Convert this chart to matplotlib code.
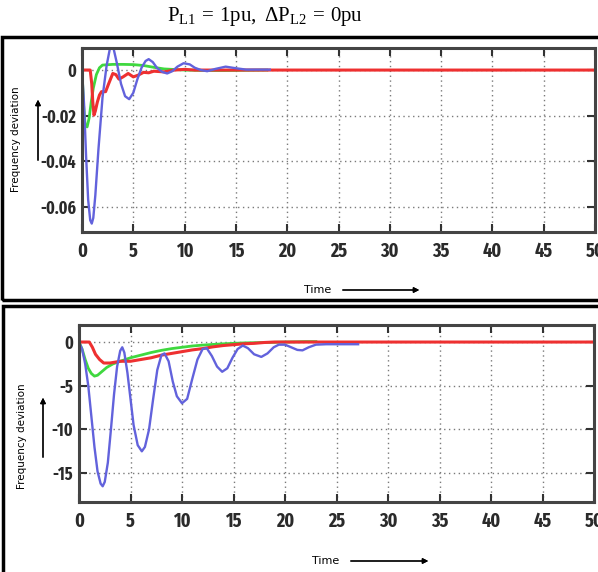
import matplotlib
matplotlib.use("Agg")
import matplotlib.pyplot as plt
from matplotlib.patches import Rectangle
from matplotlib import font_manager

# Load-frequency response, area 1 step load (top) and area 2 deviation (bottom)
x_ticks = [0, 5, 10, 15, 20, 25, 30, 35, 40, 45, 50]

top_yticks = [0, -0.02, -0.04, -0.06]
top_ylabels = ["0", "-0.02", "-0.04", "-0.06"]

top_blue_t = [0, 0.2, 0.4, 0.6, 0.8, 0.95, 1.1, 1.3, 1.6, 2.0, 2.4, 2.7, 2.9, 3.1,
              3.4, 3.8, 4.2, 4.6, 5.0, 5.4, 5.8, 6.2, 6.5, 6.9, 7.3, 7.8, 8.3, 8.8,
              9.3, 9.9, 10.5, 11.0, 11.6, 12.2, 13.0, 14.0, 15.0, 16.0, 17.0, 18.3]
top_blue_y = [0, -0.015, -0.038, -0.057, -0.066, -0.0675, -0.065, -0.055, -0.035,
              -0.012, 0.002, 0.009, 0.0105, 0.009, 0.003, -0.006, -0.0115, -0.0128,
              -0.010, -0.004, 0.001, 0.004, 0.0048, 0.0035, 0.001, -0.0008, -0.0015,
              -0.0005, 0.0015, 0.003, 0.0025, 0.001, 0.0, -0.0005, 0.0005, 0.0015,
              0.0008, 0.0002, 0.0002, 0.0002]

top_green_t = [0, 0.15, 0.3, 0.5, 0.7, 0.9, 1.1, 1.4, 1.7, 2.0, 3, 4, 5, 6, 7, 8,
               10, 12, 14, 16, 18]
top_green_y = [0, -0.015, -0.024, -0.025, -0.021, -0.014, -0.008, -0.002, 0.001,
               0.0022, 0.0025, 0.0025, 0.0024, 0.002, 0.0012, 0.0005, 0.0, -0.0002,
               -0.0002, -0.0001, 0]

top_red_t = [0, 0.8, 0.95, 1.05, 1.17, 1.3, 1.5, 1.7, 1.9, 2.3, 2.6, 3.0, 3.3, 3.6,
             4.0, 4.5, 5.0, 5.5, 6.0, 6.5, 7, 8, 9, 10, 11, 12, 50]
top_red_y = [0, 0, -0.006, -0.014, -0.0198, -0.018, -0.014, -0.011, -0.0095,
             -0.0095, -0.006, -0.0015, -0.002, -0.004, -0.003, -0.0015, -0.003,
             -0.0022, -0.001, -0.0012, -0.0005, -0.0008, 0.0, 0.0003, 0, 0, 0]

bot_yticks = [0, -5, -10, -15]
bot_ylabels = ["0", "-5", "-10", "-15"]

bot_blue_t = [0, 0.3, 0.6, 0.9, 1.2, 1.5, 1.8, 2.1, 2.3, 2.5, 2.8, 3.1, 3.4, 3.7,
              4.0, 4.2, 4.4, 4.7, 5.0, 5.3, 5.7, 6.1, 6.4, 6.8, 7.2, 7.6, 8.0, 8.3,
              8.7, 9.1, 9.5, 10.0, 10.5, 11.0, 11.5, 12.0, 12.4, 12.9, 13.4, 13.9,
              14.4, 14.9, 15.4, 15.9, 16.4, 17.0, 17.7, 18.3, 18.9, 19.4, 20.0, 20.6,
              21.2, 21.7, 22.3, 23.0, 24.0, 27.1]
bot_blue_y = [0, -0.8, -2.5, -5.0, -8.5, -12.0, -14.8, -16.2, -16.5, -16.0, -13.8,
              -10.0, -6.0, -2.8, -1.0, -0.6, -1.2, -3.5, -6.5, -9.5, -11.8, -12.5,
              -12.0, -10.0, -6.5, -3.2, -1.5, -1.3, -2.2, -4.5, -6.2, -7.0, -6.5,
              -4.2, -2.0, -0.8, -0.7, -1.6, -2.8, -3.4, -3.0, -1.8, -0.8, -0.4,
              -0.7, -1.4, -1.7, -1.3, -0.6, -0.3, -0.3, -0.6, -0.9, -0.95, -0.6,
              -0.3, -0.25, -0.25]

bot_green_t = [0, 0.3, 0.6, 0.9, 1.2, 1.5, 1.8, 2.2, 2.7, 3.3, 4.0, 5.0, 6.0, 7.0,
               8.0, 9.0, 10.0, 11, 12, 14, 16, 18, 20, 22, 23]
bot_green_y = [0, -0.8, -2.0, -3.0, -3.6, -3.9, -3.8, -3.4, -2.9, -2.5, -2.2, -1.8,
               -1.5, -1.2, -0.95, -0.75, -0.6, -0.45, -0.35, -0.2, -0.1, -0.05, 0,
               0.05, 0.05]

bot_red_t = [0, 1.0, 1.3, 1.6, 2.0, 2.4, 3.0, 3.5, 4.0, 5.0, 6.0, 7.0, 8.0, 9.0, 10,
             11, 12, 13, 14, 15, 16, 17, 18, 19, 50]
bot_red_y = [0, 0, -0.6, -1.4, -2.0, -2.4, -2.4, -2.3, -2.2, -2.2, -2.0, -1.8, -1.5,
             -1.3, -1.1, -0.9, -0.75, -0.55, -0.4, -0.3, -0.2, -0.15, -0.05, 0, 0]

BLUE = "#6262dc"
GREEN = "#3fd83f"
RED = "#ee3030"

# narrow bold face for the tick numbers
names = {f.name for f in font_manager.fontManager.ttflist}
tick_family = "DejaVu Sans"
for cand in ["Fira Sans Extra Condensed", "Saira ExtraCondensed", "Roboto Condensed"]:
    if cand in names:
        tick_family = cand
        break

fig = plt.figure(figsize=(5.98, 5.72), dpi=100)
W, H = 598, 572


def fx(px):
    return px / W


def fy(py):
    return 1 - py / H


def panel(rect, ylim, yticks, ylabels, lines):
    ax = fig.add_axes(rect)
    for t, y, c, lw in lines:
        ax.plot(t, y, color=c, lw=lw, solid_joinstyle="round")
    ax.set_xlim(0, 50)
    ax.set_ylim(*ylim)
    ax.set_xticks(x_ticks)
    ax.set_xticklabels([str(v) for v in x_ticks])
    ax.set_yticks(yticks)
    ax.set_yticklabels(ylabels)
    ax.grid(True, ls=(0, (1, 2.5)), color="#7a7a7a", lw=1.0)
    ax.tick_params(direction="in", top=True, right=True, length=6, width=1.5,
                   color="#333333")
    ax.tick_params(axis="x", pad=7)
    ax.tick_params(axis="y", pad=4)
    for lab in ax.get_xticklabels():
        lab.set_fontsize(14)
    for lab in ax.get_yticklabels():
        lab.set_fontsize(12.5)
    for lab in ax.get_xticklabels() + ax.get_yticklabels():
        lab.set_family(tick_family)
        lab.set_fontweight("bold")
        lab.set_color("#2a2a2a")
    for s in ax.spines.values():
        s.set_linewidth(2.2)
        s.set_color("#444444")
    return ax


panel([fx(82), fy(232), fx(513), (232 - 48) / H], (-0.0712, 0.0097),
      top_yticks, top_ylabels,
      [(top_green_t, top_green_y, GREEN, 2.0),
       (top_red_t, top_red_y, RED, 2.2),
       (top_blue_t, top_blue_y, BLUE, 1.7)])

panel([fx(79), fy(502), fx(515), (502 - 325) / H], (-18.3, 1.95),
      bot_yticks, bot_ylabels,
      [(bot_green_t, bot_green_y, GREEN, 2.0),
       (bot_red_t, bot_red_y, RED, 2.2),
       (bot_blue_t, bot_blue_y, BLUE, 1.7)])

# outer frames around each panel
for x0, y0, x1, y1 in [(2, 37, 600, 300), (3, 306, 600, 578)]:
    fig.add_artist(Rectangle((fx(x0), fy(y1)), fx(x1 - x0), (y1 - y0) / H,
                             transform=fig.transFigure, fill=False,
                             lw=2.5, ec="black", clip_on=False))

plt.rcParams["mathtext.fontset"] = "custom"
plt.rcParams["mathtext.rm"] = "Liberation Serif"
plt.rcParams["mathtext.it"] = "Liberation Serif"
fig.text(fx(265), fy(16), r"$\mathrm{P_{L1}\,=\,1pu,\ \Delta P_{L2}\,=\,0pu}$",
         ha="center", va="center", fontsize=15, family="Liberation Serif")

# axis captions with arrows
for (lx, ly, ax_x, ay0, ay1) in [(16, 139, 38, 163, 97), (22, 436, 43, 460, 395)]:
    fig.text(fx(lx), fy(ly), "Frequency deviation", rotation=90, ha="center",
             va="center", fontsize=7.5, family="DejaVu Sans")
    fig.add_artist(plt.annotate("", xy=(fx(ax_x), fy(ay1)), xytext=(fx(ax_x), fy(ay0)),
                                xycoords="figure fraction",
                                arrowprops=dict(arrowstyle="-|>", color="black",
                                                lw=0.9, mutation_scale=8)))

for (tx, ty, a0, a1) in [(318, 290, 340, 422), (326, 561, 348, 431)]:
    fig.text(fx(tx), fy(ty), "Time", ha="center", va="center", fontsize=8,
             family="DejaVu Sans")
    fig.add_artist(plt.annotate("", xy=(fx(a1), fy(ty)), xytext=(fx(a0), fy(ty)),
                                xycoords="figure fraction",
                                arrowprops=dict(arrowstyle="-|>", color="black",
                                                lw=0.9, mutation_scale=8)))

fig.savefig("out.png", dpi=100)
